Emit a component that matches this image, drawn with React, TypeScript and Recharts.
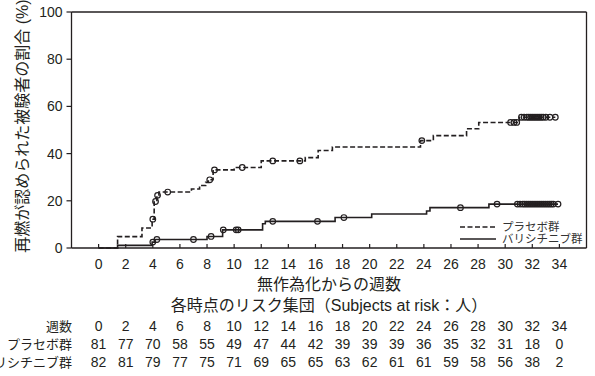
import { ComposedChart, Line, Scatter, XAxis, YAxis, ReferenceLine, Legend } from "recharts";

const ink = "#231f20";
const font = "'Liberation Sans', Arial, 'Noto Sans CJK JP', sans-serif";

// x-axis ticks and risk table columns (weeks)
const weeks = [0, 2, 4, 6, 8, 10, 12, 14, 16, 18, 20, 22, 24, 26, 28, 30, 32, 34];
const pctTicks = [0, 20, 40, 60, 80, 100];

const placeboAtRisk = [81, 77, 70, 58, 55, 49, 47, 44, 42, 39, 39, 39, 36, 35, 32, 31, 18, 0];
const bariAtRisk = [82, 81, 79, 77, 75, 71, 69, 65, 65, 63, 62, 61, 61, 59, 58, 56, 38, 2];

// cumulative % with flare (time of step, value after step)
const placeboStepTimes = [1.4, 3.2, 3.95, 4.1, 4.3, 4.45, 6.85, 7.45, 7.9, 8.1, 8.45, 10.0, 12.0, 15.25, 16.2, 17.25, 23.75, 24.7, 27.15, 28.05, 31.05];
const placeboStepValues = [4.8, 8.5, 12.2, 19.7, 22.3, 23.7, 25.0, 26.5, 27.8, 28.9, 33.1, 34.1, 36.9, 38.3, 41.3, 42.8, 45.5, 47.6, 50.5, 53.2, 55.4];
const placeboCensorTimes = [4.0, 4.2, 4.35, 5.1, 8.2, 8.55, 10.6, 12.85, 14.85, 23.85, 30.4, 30.65, 30.85, 31.2, 31.4, 31.6, 31.75, 31.9, 32.05, 32.2, 32.35, 32.5, 32.65, 32.8, 33.0, 33.3, 33.7];

const bariStepTimes = [1.4, 3.95, 4.15, 8.0, 9.15, 12.1, 12.3, 17.45, 20.15, 24.2, 24.45, 28.8];
const bariStepValues = [1.1, 2.5, 3.6, 4.9, 7.7, 10.3, 11.3, 12.9, 14.4, 15.7, 17.1, 18.6];
const bariCensorTimes = [4.0, 4.3, 7.0, 8.3, 9.2, 10.15, 10.3, 12.85, 16.15, 18.1, 26.7, 29.4, 30.9, 31.1, 31.3, 31.45, 31.6, 31.75, 31.9, 32.05, 32.2, 32.35, 32.5, 32.65, 32.8, 32.95, 33.1, 33.25, 33.4, 33.55, 33.9];

function stepValue(times: number[], values: number[], t: number) {
  let v = 0;
  times.forEach((s, i) => {
    if (s <= t) v = values[i];
  });
  return v;
}

function buildCurve(times: number[], values: number[], end: number) {
  const pts = [{ t: 0, v: 0 }];
  times.forEach((t, i) => pts.push({ t, v: values[i] }));
  pts.push({ t: end, v: values[values.length - 1] });
  return pts;
}

function buildCensor(times: number[], values: number[], censor: number[]) {
  return censor.map((t) => ({ t, v: stepValue(times, values, t) }));
}

const placeboCurve = buildCurve(placeboStepTimes, placeboStepValues, placeboCensorTimes[placeboCensorTimes.length - 1]);
const bariCurve = buildCurve(bariStepTimes, bariStepValues, bariCensorTimes[bariCensorTimes.length - 1]);
const placeboMarks = buildCensor(placeboStepTimes, placeboStepValues, placeboCensorTimes);
const bariMarks = buildCensor(bariStepTimes, bariStepValues, bariCensorTimes);

const CensorMark = (props: any) => (
  <circle cx={props.cx} cy={props.cy} r={2.8} fill="none" stroke={ink} strokeWidth={1.2} />
);

function WeekTick(props: any) {
  const { x, y, payload } = props;
  const i = weeks.indexOf(payload.value);
  return (
    <g fill={ink} fontSize={14}>
      <line x1={x} x2={x} y1={y} y2={y - 4} stroke={ink} strokeWidth={1.2} />
      <text x={x} y={y + 21} textAnchor="middle">{payload.value}</text>
      <text x={x} y={y + 82.7} textAnchor="middle">{weeks[i]}</text>
      <text x={x} y={y + 101} textAnchor="middle">{placeboAtRisk[i]}</text>
      <text x={x} y={y + 119.3} textAnchor="middle">{bariAtRisk[i]}</text>
    </g>
  );
}

function XTitles(props: any) {
  const vb = props.viewBox || { x: 71.5, y: 248, width: 515, height: 128 };
  const cx = vb.x + vb.width / 2;
  const top = vb.y;
  return (
    <g fill={ink}>
      <text x={cx} y={top + 41.5} textAnchor="middle" fontSize={16}>無作為化からの週数</text>
      <text x={cx} y={top + 62.5} textAnchor="middle" fontSize={16}>各時点のリスク集団（Subjects at risk：人）</text>
      <text x={vb.x + 0.5} y={top + 82.5} textAnchor="end" fontSize={13}>週数</text>
      <text x={vb.x + 0.5} y={top + 101} textAnchor="end" fontSize={13}>プラセボ群</text>
      <text x={vb.x + 0.5} y={top + 119.3} textAnchor="end" fontSize={13}>バリシチニブ群</text>
    </g>
  );
}

function YTitle(props: any) {
  const vb = props.viewBox || { x: 0, y: 12, width: 71.5, height: 236 };
  const cy = vb.y + vb.height / 2 - 4;
  return (
    <text
      x={22}
      y={cy}
      transform={`rotate(-90, 22, ${cy})`}
      textAnchor="middle"
      dominantBaseline="central"
      fontSize={16}
      fill={ink}
    >
      再燃が認められた被験者の割合 (%)
    </text>
  );
}

const renderLegend = () => (
  <div style={{ fontFamily: font, fontSize: 11.5, color: "#333", lineHeight: "12px" }}>
    <div style={{ display: "flex", alignItems: "center", height: 12 }}>
      <svg width={38} height={12}>
        <line x1={1} x2={37} y1={6} y2={6} stroke={ink} strokeWidth={1.6} strokeDasharray="5 2.5" />
      </svg>
      <span style={{ marginLeft: 5 }}>プラセボ群</span>
    </div>
    <div style={{ display: "flex", alignItems: "center", height: 12 }}>
      <svg width={38} height={12}>
        <line x1={1} x2={37} y1={6} y2={6} stroke={ink} strokeWidth={1.6} />
      </svg>
      <span style={{ marginLeft: 5 }}>バリシチニブ群</span>
    </div>
  </div>
);

export default function App() {
  return (
    <div style={{ position: "absolute", left: 0, top: 0, fontFamily: font }}>
      <ComposedChart
        width={595}
        height={376}
        margin={{ top: 12, right: 8.5, bottom: 0, left: 0 }}
        style={{ fontFamily: font }}
      >
        <XAxis
          dataKey="t"
          type="number"
          domain={[-2, 36]}
          ticks={weeks}
          interval={0}
          allowDataOverflow
          height={128}
          tickSize={0}
          tickMargin={0}
          tick={<WeekTick />}
          axisLine={{ stroke: ink, strokeWidth: 1.3 }}
          label={<XTitles />}
        />
        <YAxis
          dataKey="v"
          type="number"
          domain={[0, 100]}
          ticks={pctTicks}
          width={71.5}
          tickSize={5}
          tickMargin={4}
          tick={{ fontSize: 14, fill: ink }}
          tickLine={{ stroke: ink, strokeWidth: 1.2 }}
          axisLine={{ stroke: ink, strokeWidth: 1.3 }}
          label={<YTitle />}
        />
        <ReferenceLine y={100} stroke={ink} strokeWidth={1.3} />
        <ReferenceLine x={36} stroke={ink} strokeWidth={1.3} />
        <Legend
          layout="vertical"
          align="center"
          verticalAlign="middle"
          content={renderLegend}
          wrapperStyle={{ left: 459, top: 221, width: "auto", height: "auto" }}
        />
        <Line
          data={placeboCurve}
          dataKey="v"
          type="stepAfter"
          stroke={ink}
          strokeWidth={1.6}
          strokeDasharray="5 2.5"
          dot={false}
          activeDot={false}
          isAnimationActive={false}
          name="プラセボ群"
        />
        <Line
          data={bariCurve}
          dataKey="v"
          type="stepAfter"
          stroke={ink}
          strokeWidth={1.6}
          dot={false}
          activeDot={false}
          isAnimationActive={false}
          name="バリシチニブ群"
        />
        <Scatter data={placeboMarks} dataKey="v" shape={<CensorMark />} isAnimationActive={false} />
        <Scatter data={bariMarks} dataKey="v" shape={<CensorMark />} isAnimationActive={false} />
      </ComposedChart>
    </div>
  );
}
